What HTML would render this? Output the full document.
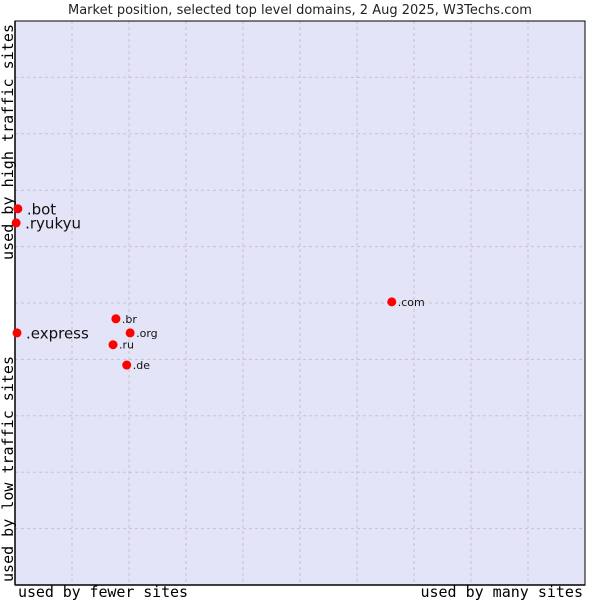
<!DOCTYPE html>
<html><head><meta charset="utf-8"><style>
html,body{margin:0;padding:0;background:#fff;width:600px;height:600px;overflow:hidden}
svg{display:block;font-family:"DejaVu Sans","Liberation Sans",sans-serif}
</style></head><body>
<svg id="chart" width="600" height="600" xmlns="http://www.w3.org/2000/svg">
<text x="300" y="14" text-anchor="middle" font-size="13" fill="#222">Market position, selected top level domains, 2 Aug 2025, W3Techs.com</text>
<rect x="15" y="21" width="570" height="564" fill="#e4e4f8"/>
<g id="grid"></g>
<line x1="15" y1="21" x2="15" y2="585" stroke="#000" stroke-width="1.5"/>
<line x1="15" y1="585" x2="585" y2="585" stroke="#000" stroke-width="1.5"/>
<rect x="15" y="21" width="570" height="564" fill="none" stroke="#000" stroke-width="1"/>
<g id="points"></g>
<text x="18" y="597" font-family="DejaVu Sans Mono,Liberation Mono,monospace" font-size="15" textLength="170" fill="#000">used by fewer sites</text>
<text x="583" y="597" text-anchor="end" font-family="DejaVu Sans Mono,Liberation Mono,monospace" font-size="15" fill="#000">used by many sites</text>
<text transform="translate(13,582) rotate(-90)" font-family="DejaVu Sans Mono,Liberation Mono,monospace" font-size="15" textLength="226" fill="#000">used by low traffic sites</text>
<text transform="translate(13,260) rotate(-90)" font-family="DejaVu Sans Mono,Liberation Mono,monospace" font-size="15" textLength="236" fill="#000">used by high traffic sites</text>
</svg>
<script>
const labels = [".bot", ".ryukyu", ".express", ".br", ".org", ".ru", ".de", ".com"];
const xValues = [0.5, 0.2, 0.35, 17.7, 20.2, 17.2, 19.6, 66.1];
const yValues = [66.7, 64.2, 44.7, 47.2, 44.7, 42.6, 39.0, 50.2];
const bigLabel = [true, true, true, false, false, false, false, false];
const X0=15,X1=585,Y0=585,Y1=21;
const sx=v=>X0+(X1-X0)*v/100;
const sy=v=>Y0-(Y0-Y1)*v/100;
const NS="http://www.w3.org/2000/svg";
const grid=document.getElementById('grid');
for(let i=1;i<10;i++){
  const v=document.createElementNS(NS,'line');
  v.setAttribute('x1',sx(i*10));v.setAttribute('x2',sx(i*10));v.setAttribute('y1',Y1);v.setAttribute('y2',Y0);
  v.setAttribute('stroke','#c4c4c8');v.setAttribute('stroke-dasharray','3,3');
  
  
  grid.appendChild(v);
  const h=document.createElementNS(NS,'line');
  h.setAttribute('y1',sy(i*10));h.setAttribute('y2',sy(i*10));h.setAttribute('x1',X0);h.setAttribute('x2',X1);
  h.setAttribute('stroke','#c4c4c8');h.setAttribute('stroke-dasharray','3,3');
  
  
  grid.appendChild(h);
}
const pts=document.getElementById('points');
labels.forEach((l,i)=>{
  const x=sx(xValues[i]),y=sy(yValues[i]);
  const c=document.createElementNS(NS,'circle');
  c.setAttribute('cx',x);c.setAttribute('cy',y);c.setAttribute('r',4.5);c.setAttribute('fill','#ff0000');
  
  
  pts.appendChild(c);
  const t=document.createElementNS(NS,'text');
  t.setAttribute('x',x+(bigLabel[i]?9:6));t.setAttribute('y',y+(bigLabel[i]?5.5:4));
  t.setAttribute('font-size',bigLabel[i]?15:11);t.setAttribute('fill','#111');
  t.textContent=l;
  
  
  pts.appendChild(t);
});
</script>
</body></html>
